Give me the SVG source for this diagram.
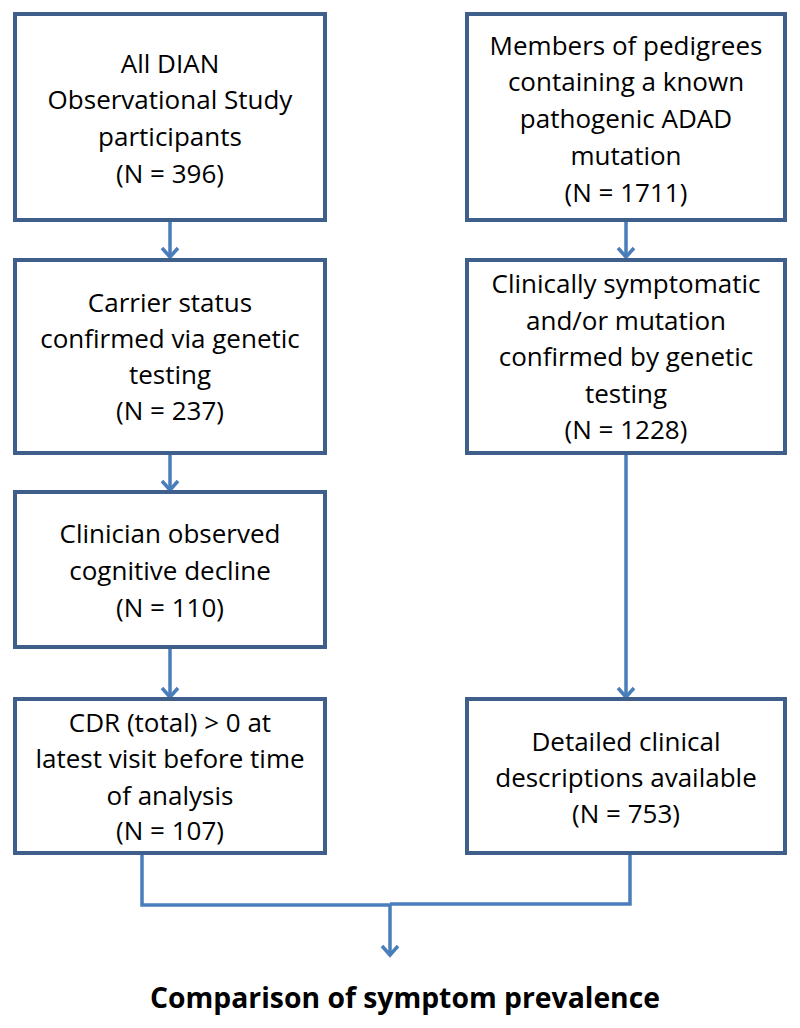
<svg xmlns="http://www.w3.org/2000/svg" width="800" height="1028" viewBox="0 0 800 1028">
<style>
.box{fill:#fff;stroke:#3E5F8A;stroke-width:4}
.t{font-family:"Open Sans","Liberation Sans",sans-serif;font-size:26px;fill:#000;text-anchor:middle}
.c{fill:none;stroke:#4A7EBB;stroke-width:3.5}
.h{fill:none;stroke:#4A7EBB;stroke-width:3.5;stroke-linejoin:miter}
.b{font-family:"Open Sans","Liberation Sans",sans-serif;font-size:28px;font-weight:bold;fill:#000;text-anchor:middle}
</style>
<rect width="800" height="1028" fill="#fff"/>
<g id="connectors">
<path class="c" d="M170 220V257M170 453V490M170 647V697M626 220V257M626 453V697"/>
<path class="h" d="M162 248L170 257L178 248M162 481L170 490L178 481M162 688L170 697L178 688M618 248L626 257L634 248M618 688L626 697L634 688"/>
<path class="c" d="M142 853V905H390M390 904H630V853M390 905V955"/>
<path class="h" d="M382 946L390 955L398 946"/>
</g>
<g id="n1"><rect class="box" x="15" y="14" width="310" height="206"/>
<text class="t" x="170" y="73">All DIAN</text><text class="t" x="170" y="109">Observational Study</text><text class="t" x="170" y="146">participants</text><text class="t" x="170" y="183">(N = 396)</text></g>
<g id="n2"><rect class="box" x="15" y="260" width="310" height="193"/>
<text class="t" x="170" y="312">Carrier status</text><text class="t" x="170" y="348">confirmed via genetic</text><text class="t" x="170" y="384">testing</text><text class="t" x="170" y="420">(N = 237)</text></g>
<g id="n3"><rect class="box" x="15" y="492" width="310" height="155"/>
<text class="t" x="170" y="543">Clinician observed</text><text class="t" x="170" y="580">cognitive decline</text><text class="t" x="170" y="617">(N = 110)</text></g>
<g id="n4"><rect class="box" x="15" y="699" width="310" height="154"/>
<text class="t" x="170" y="732">CDR (total) &gt; 0 at</text><text class="t" x="170" y="768">latest visit before time</text><text class="t" x="170" y="805">of analysis</text><text class="t" x="170" y="840">(N = 107)</text></g>
<g id="n5"><rect class="box" x="467" y="14" width="318" height="206"/>
<text class="t" x="626" y="55">Members of pedigrees</text><text class="t" x="626" y="91">containing a known</text><text class="t" x="626" y="128">pathogenic ADAD</text><text class="t" x="626" y="165">mutation</text><text class="t" x="626" y="202">(N = 1711)</text></g>
<g id="n6"><rect class="box" x="467" y="260" width="318" height="193"/>
<text class="t" x="626" y="293">Clinically symptomatic</text><text class="t" x="626" y="330">and/or mutation</text><text class="t" x="626" y="366">confirmed by genetic</text><text class="t" x="626" y="403">testing</text><text class="t" x="626" y="439">(N = 1228)</text></g>
<g id="n7"><rect class="box" x="467" y="699" width="318" height="154"/>
<text class="t" x="626" y="751">Detailed clinical</text><text class="t" x="626" y="787">descriptions available</text><text class="t" x="626" y="823">(N = 753)</text></g>
<g id="n8"><text class="b" x="405" y="1008" textLength="510" lengthAdjust="spacingAndGlyphs">Comparison of symptom prevalence</text></g>
</svg>
